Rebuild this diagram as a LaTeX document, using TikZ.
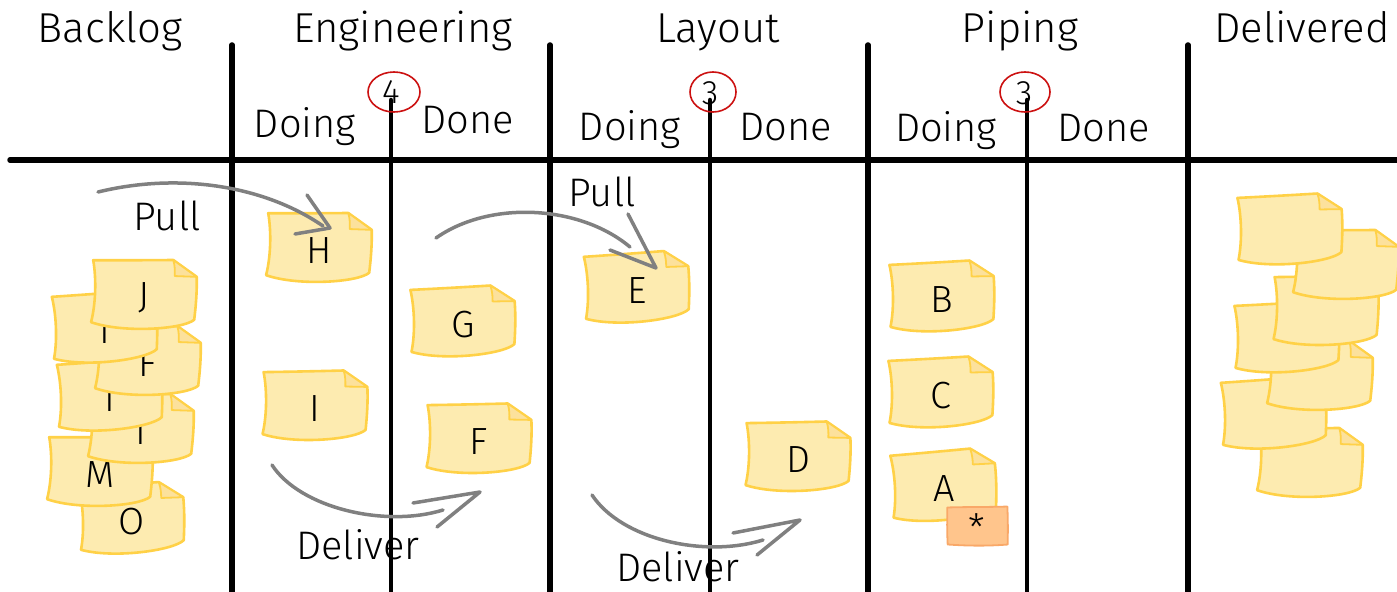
\documentclass[tikz,border=0pt]{standalone}
\usepackage{fontspec}
\setmainfont{Fira Sans}[UprightFont=* Light]
\definecolor{noteFill}{HTML}{FDEBB0}
\definecolor{noteEdge}{HTML}{FFD147}
\definecolor{noteFold}{HTML}{FCE19C}
\definecolor{tabFill}{HTML}{FFC58C}
\definecolor{tabEdge}{HTML}{F9A868}
\definecolor{wip}{HTML}{CC1111}
\definecolor{flowGray}{HTML}{808080}
\tikzset{
  board/.style={line width=5.5bp, black, line cap=round},
  inner/.style={line width=4.5bp, black, line cap=round},
  flow/.style={flowGray, line width=3.5bp, line cap=round, line join=round},
  heading/.style={font=\fontsize{42}{42}\selectfont, anchor=base, inner sep=0pt},
  colhead/.style={font=\fontsize{40}{40}\selectfont, anchor=base, inner sep=0pt},
  flowlabel/.style={font=\fontsize{40}{40}\selectfont, inner sep=0pt},
  letter/.style={font=\fontsize{38}{38}\selectfont, inner sep=0pt},
  wipnum/.style={font=\fontsize{34}{34}\selectfont, inner sep=0pt},
  wiplimit/.style={wip, line width=1.6bp},
  pics/note/.style={code={
    \filldraw[fill=noteFill, draw=noteEdge, line width=2.6bp, line join=round]
      (-52,-34) .. controls (-20,-35) and (5,-36) .. (28,-37) -- (52,-21)
      .. controls (53,-5) and (52,10) .. (51,22)
      .. controls (40,32) and (-20,38) .. (-52,28)
      .. controls (-48,10) and (-48,-15) .. (-52,-34) -- cycle;
    \filldraw[fill=noteFold, draw=noteEdge, line width=1.8bp, line join=round]
      (28,-37) .. controls (30,-31) and (30,-26) .. (30,-21) -- (52,-21) -- cycle;
    \node[letter] at (0,2) {#1};
  }},
  pics/tab/.style={code={
    \filldraw[fill=tabFill, draw=tabEdge, line width=1.8bp, line join=round]
      (-30,-18) .. controls (-10,-19) and (10,-19) .. (30,-20)
      .. controls (31,-5) and (31,8) .. (31,18)
      .. controls (10,20) and (-10,20) .. (-29,19)
      .. controls (-30,5) and (-30,-6) .. (-30,-18) -- cycle;
    \node[letter] at (0,2) {*};
  }},
}
\begin{document}
\begin{tikzpicture}[x=1bp, y=-1bp]
\useasboundingbox (0,0) rectangle (1397,592);
\fill[white] (0,0) rectangle (1397,592);

% board grid
\draw[board] (10,160) -- (1397,160);
\foreach \x in {232,550,868,1188} \draw[board] (\x,45) -- (\x,592);
\foreach \x in {391,710,1027} \draw[inner] (\x,100) -- (\x,592);

% stage headings
\node[heading] (hBacklog) at (110,43) {Backlog};
\node[heading] (hEng) at (403,43) {Engineering};
\node[heading] (hLayout) at (718,43) {Layout};
\node[heading] (hPiping) at (1020,43) {Piping};
\node[heading] (hDelivered) at (1302,43) {Delivered};

\node[colhead] (engDoing) at (305,138) {Doing};
\node[colhead] (engDone) at (468,134) {Done};
\node[colhead] (layDoing) at (630,141) {Doing};
\node[colhead] (layDone) at (786,141) {Done};
\node[colhead] (pipDoing) at (946,142) {Doing};
\node[colhead] (pipDone) at (1104,142) {Done};

% work-in-progress limits
\draw[wiplimit] (394,92) ellipse [x radius=26bp, y radius=20bp];
\node[wipnum] (wipEng) at (391,92) {4};
\draw[wiplimit] (713,92) ellipse [x radius=23bp, y radius=20bp];
\node[wipnum] (wipLay) at (710,93) {3};
\draw[wiplimit] (1025,92) ellipse [x radius=25bp, y radius=20bp];
\node[wipnum] (wipPip) at (1024,93) {3};

% backlog pile
\pic[rotate=2] at (132,520) {note=O};
\pic[rotate=-2] at (100,473) {note=M};
\pic[rotate=-2] at (141,430) {note=T};
\pic[rotate=2] at (110,397) {note=T};
\pic[rotate=-2] at (148,362) {note=F};
\pic[rotate=2] at (105,329) {note=T};
\pic[rotate=-2] at (144,296) {note=J};

% engineering
\pic[rotate=-2] at (319,249) {note=H};
\pic[rotate=-1] at (315,407) {note=I};
\pic[rotate=1] at (463,323) {note=G};
\pic[rotate=-1] at (479,440) {note=F};

% layout
\pic[rotate=2] at (637,289) {note=E};
\pic[rotate=-1] at (798,458) {note=D};

% piping
\pic[rotate=1] at (942,298) {note=B};
\pic[rotate=1] at (941,394) {note=C};
\pic[rotate=3] at (944,487) {note=A};
\pic[rotate=-1] at (977,526) {tab};

% delivered pile
\pic[rotate=-2] at (1310,464) {note=};
\pic[rotate=2] at (1274,415) {note=};
\pic[rotate=-2] at (1320,377) {note=};
\pic[rotate=1] at (1287,339) {note=};
\pic[rotate=-1] at (1326,312) {note=};
\pic[rotate=-2] at (1346,266) {note=};
\pic[rotate=1] at (1290,231) {note=};

% pull and deliver flows
\coordinate (p1s) at (98,192);
\coordinate (p1e) at (323,226);
\coordinate (p1t) at (330,228);
\coordinate (p1a) at (307,195);
\coordinate (p1b) at (295,234);
\draw[flow] (p1s) .. controls (180,172) and (265,186) .. (p1e);
\draw[flow] (p1a) -- (p1t) -- (p1b);
\node[flowlabel] (pull1) at (167,216) {Pull};

\coordinate (p2s) at (436,238);
\coordinate (p2e) at (630,247);
\coordinate (p2t) at (656,268);
\coordinate (p2a) at (628,214);
\coordinate (p2b) at (610,250);
\draw[flow] (p2s) .. controls (490,200) and (580,205) .. (p2e);
\draw[flow] (p2a) -- (p2t) -- (p2b);
\node[flowlabel] (pull2) at (602,192) {Pull};

\coordinate (d1s) at (272,465);
\coordinate (d1e) at (443,510);
\coordinate (d1t) at (480,492);
\coordinate (d1a) at (413,503);
\coordinate (d1b) at (437,527);
\draw[flow] (d1s) .. controls (300,508) and (385,528) .. (d1e);
\draw[flow] (d1a) -- (d1t) -- (d1b);
\node[flowlabel] (deliver1) at (358,545) {Deliver};

\coordinate (d2s) at (592,495);
\coordinate (d2e) at (763,540);
\coordinate (d2t) at (800,520);
\coordinate (d2a) at (733,533);
\coordinate (d2b) at (757,555);
\draw[flow] (d2s) .. controls (622,540) and (705,558) .. (d2e);
\draw[flow] (d2a) -- (d2t) -- (d2b);
\node[flowlabel] (deliver2) at (678,567) {Deliver};
\end{tikzpicture}
\end{document}
